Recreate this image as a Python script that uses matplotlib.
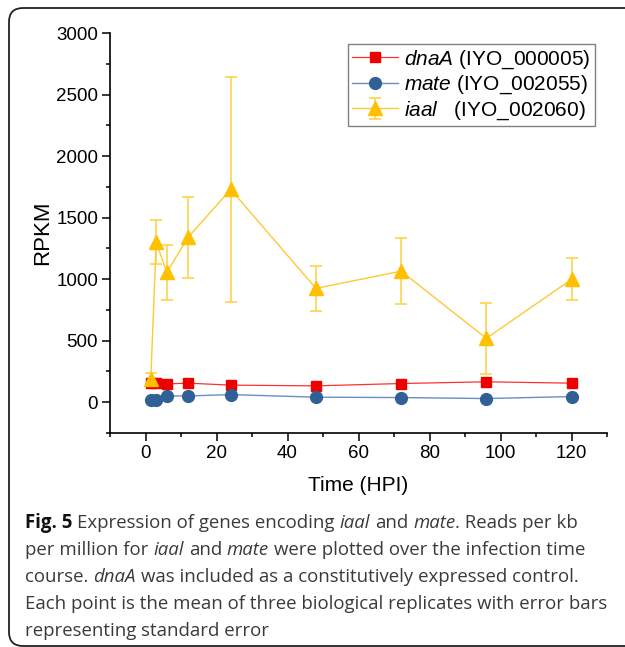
import matplotlib.pyplot as plt
from matplotlib.patches import FancyBboxPatch
from matplotlib.ticker import MultipleLocator

plt.rcParams['font.family'] = 'Liberation Sans'
plt.rcParams['mathtext.fontset'] = 'custom'
plt.rcParams['mathtext.it'] = 'Liberation Sans:italic'
plt.rcParams['mathtext.rm'] = 'Liberation Sans'

# Sampling times (hours post infection)
time = [1.5, 3, 6, 12, 24, 48, 72, 96, 120]

# RPKM means per gene
dnaA = [160, 158, 149, 155, 139, 133, 152, 166, 155]
mate = [18, 20, 51, 51, 62, 41, 38, 30, 46]
iaal = [190, 1300, 1055, 1340, 1729, 925, 1065, 519, 998]
iaal_err = [50, 178, 222, 327, 915, 180, 266, 289, 170]

labels = [r'$\mathit{dnaA}$ (IYO_000005)',
          r'$\mathit{mate}$ (IYO_002055)',
          r'$\mathit{iaal}$   (IYO_002060)']

# Caption, one list of (text, style) runs per line
caption = [
    [('Fig. 5', 'b'), (' Expression of genes encoding ', 'r'), ('iaal', 'i'),
     (' and ', 'r'), ('mate', 'i'), ('. Reads per kb', 'r')],
    [('per million for ', 'r'), ('iaal', 'i'), (' and ', 'r'), ('mate', 'i'),
     (' were plotted over the infection time', 'r')],
    [('course. ', 'r'), ('dnaA', 'i'),
     (' was included as a constitutively expressed control.', 'r')],
    [('Each point is the mean of three biological replicates with error bars', 'r')],
    [('representing standard error', 'r')],
]


def main():
    fig = plt.figure(figsize=(6.25, 6.47), dpi=100)

    # Background axes in pixel units for the frame and caption
    bg = fig.add_axes([0, 0, 1, 1])
    bg.set_xlim(0, 625)
    bg.set_ylim(647, 0)
    bg.axis('off')
    bg.add_patch(FancyBboxPatch((9, 8), 700, 638,
                                boxstyle='round,pad=0,rounding_size=14',
                                fill=False, lw=1.3, ec='#222222'))

    ax = fig.add_axes([110 / 625, (647 - 433) / 647, 497 / 625, 400 / 647])

    ax.plot(time, dnaA, '-s', color='#ff3030', lw=0.9, ms=7.5,
            mfc='#ee0000', mec='#ee0000', label=labels[0])
    ax.plot(time, mate, '-o', color='#6a8fc0', lw=1.0, ms=8.5,
            mfc='#2f6196', mec='#2f6196', label=labels[1])
    ax.errorbar(time, iaal, yerr=iaal_err, fmt='-^', color='#ffc930', lw=1.0,
                ms=10, mfc='#ffc000', mec='#ffc000', ecolor='#ffd24d',
                elinewidth=1.2, capsize=4, capthick=1.2, label=labels[2])

    ax.set_xlim(-10, 130)
    ax.set_ylim(-250, 3000)
    ax.xaxis.set_major_locator(MultipleLocator(20))
    ax.xaxis.set_minor_locator(MultipleLocator(10))
    ax.yaxis.set_major_locator(MultipleLocator(500))
    ax.yaxis.set_minor_locator(MultipleLocator(250))

    for side in ['top', 'right']:
        ax.spines[side].set_visible(False)
    for side in ['left', 'bottom']:
        ax.spines[side].set_linewidth(1.2)

    ax.tick_params(which='major', direction='out', length=5.5, width=1.1,
                   labelsize=13.5, pad=3)
    ax.tick_params(which='minor', direction='out', length=3, width=1.1)

    ax.set_xlabel('Time (HPI)', fontsize=15, labelpad=10)
    ax.set_ylabel('RPKM', fontsize=16, labelpad=2)

    leg = ax.legend(loc='upper left', bbox_to_anchor=(0.479, 0.9725),
                    borderaxespad=0, fontsize=15, fancybox=False,
                    edgecolor='#808080', framealpha=1, borderpad=0.2,
                    handlelength=2.2, handletextpad=0.3, labelspacing=0.15)
    leg.get_frame().set_linewidth(1.0)

    # Caption lines with mixed bold / italic runs
    renderer = fig.canvas.get_renderer()

    def text_width(s, **kw):
        t = bg.text(0, 0, '|' + s + '|', **kw)
        w = t.get_window_extent(renderer).width
        t.set_text('||')
        w0 = t.get_window_extent(renderer).width
        t.remove()
        return w - w0

    y = 528
    for line in caption:
        x = 25
        for s, style in line:
            kw = dict(fontfamily='Open Sans', fontsize=13.4, color='#3a3a3a')
            if style == 'b':
                kw['fontweight'] = 'bold'
                kw['color'] = '#111111'
            if style == 'i':
                kw['fontstyle'] = 'italic'
            lead = len(s) - len(s.lstrip(' '))
            x0 = x + text_width(' ' * lead, **kw) if lead else x
            bg.text(x0, y, s.strip(), va='baseline', **kw)
            x += text_width(s, **kw)
        y += 27

    fig.savefig('out.png', dpi=100)


if __name__ == '__main__':
    main()
